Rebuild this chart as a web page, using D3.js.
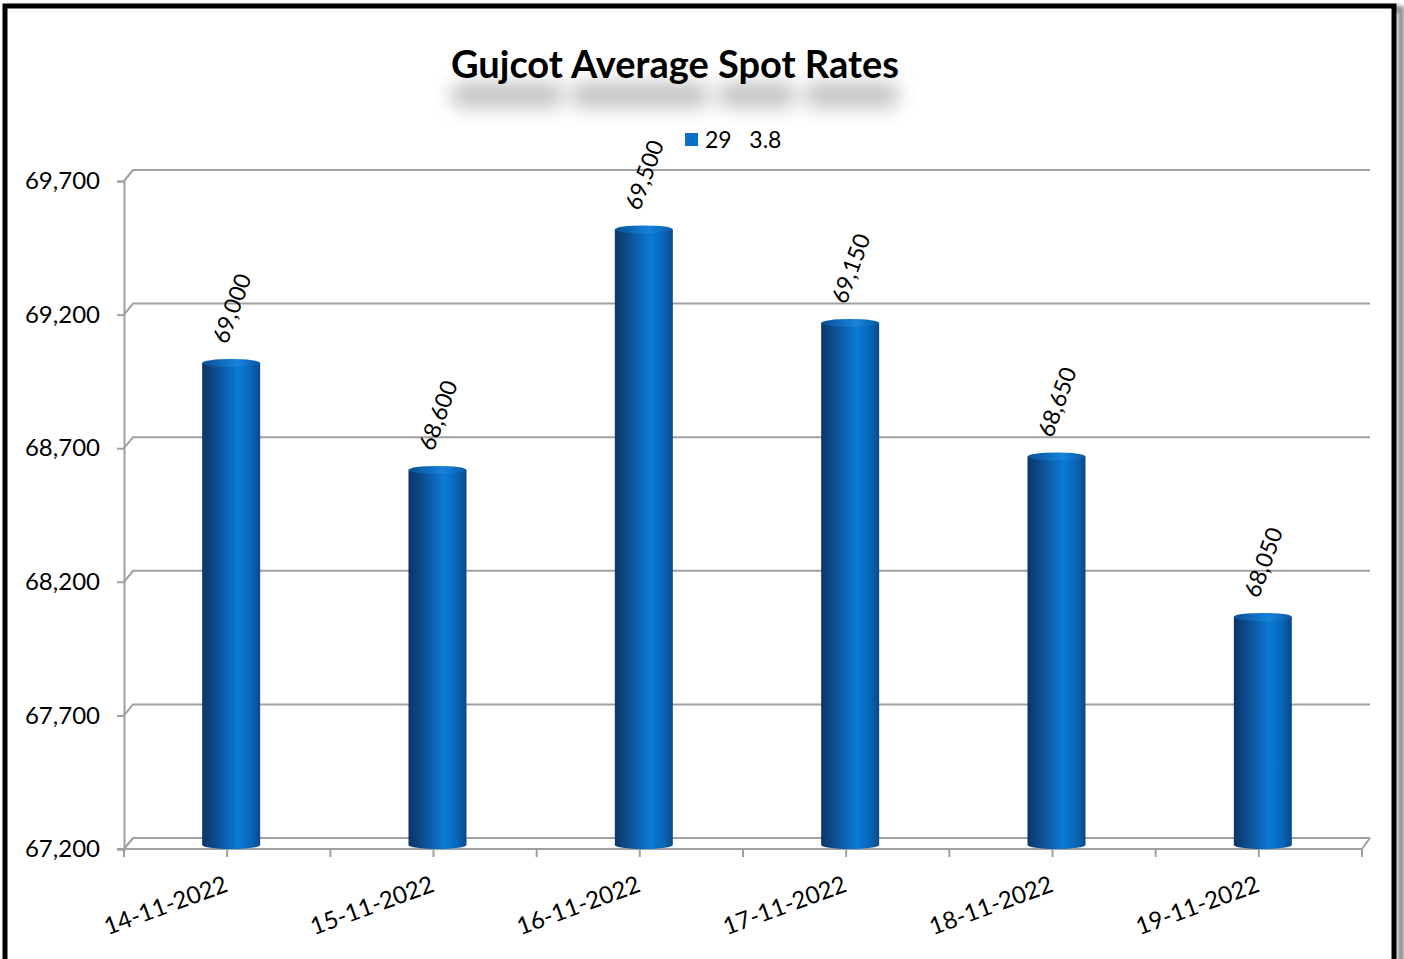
<!DOCTYPE html>
<html>
<head>
<meta charset="utf-8">
<script src="https://cdn.jsdelivr.net/npm/d3@7"></script>
<style>
  body { margin: 0; background: #fff; }
  svg { display: block; font-family: Lato, "Open Sans", sans-serif; }
</style>
</head>
<body>
<svg id="chart" width="1404" height="959"></svg>
<script>
// data
const dates = ["14-11-2022", "15-11-2022", "16-11-2022", "17-11-2022", "18-11-2022", "19-11-2022"]
const rates = [69000, 68600, 69500, 69150, 68650, 68050]
const yTicks = [67200, 67700, 68200, 68700, 69200, 69700]
const seriesName = "29   3.8"
const titleWords = ["Gujcot", "Average", "Spot", "Rates"]

const svg = d3.select("#chart")

// 3d offsets: back wall and middle of the floor
const BACK = { dx: 9, dy: -11 }
const MID = { dx: 4, dy: -5 }

const x = d3.scaleBand().domain(dates).range([124, 1362]).padding(0)
const y = d3.scaleLinear().domain([67200, 69700]).range([849, 181])

const defs = svg.append("defs")

let grad = defs.append("linearGradient").attr("id", "cyl").attr("x1", "0%").attr("x2", "100%")
grad.selectAll("stop")
  .data([[0, "#0b3566"], [0.25, "#0d4f93"], [0.62, "#0a7bd6"], [0.85, "#0864b4"], [1, "#0a4a88"]])
  .enter().append("stop")
  .attr("offset", d => d[0])
  .attr("stop-color", d => d[1])

let gradTop = defs.append("linearGradient").attr("id", "cylTop").attr("x1", "0%").attr("x2", "100%")
gradTop.selectAll("stop")
  .data([[0, "#0a4f95"], [0.6, "#1583dc"], [1, "#0a5aa6"]])
  .enter().append("stop")
  .attr("offset", d => d[0])
  .attr("stop-color", d => d[1])

defs.append("filter").attr("id", "blur")
  .attr("x", "-40%").attr("y", "-150%").attr("width", "180%").attr("height", "400%")
  .append("feGaussianBlur").attr("stdDeviation", 10)

defs.append("filter").attr("id", "frameShadow")
  .append("feGaussianBlur").attr("stdDeviation", 2)

// frame
svg.append("rect")
  .attr("x", 9).attr("y", 9).attr("width", 1392).attr("height", 960)
  .attr("fill", "none").attr("stroke", "#888").attr("stroke-width", 6)
  .attr("filter", "url(#frameShadow)")
svg.append("rect")
  .attr("x", 5).attr("y", 6).attr("width", 1389).attr("height", 960)
  .attr("fill", "#fff").attr("stroke", "#000").attr("stroke-width", 5)

// title, with a blurred shadow blob under every word
let shadowG = svg.append("g")
let title = svg.append("text")
  .attr("x", 675).attr("y", 78)
  .attr("text-anchor", "middle")
  .attr("font-size", 38).attr("font-weight", "bold")
  .attr("fill", "#000")
  .text(titleWords.join(" "))
let tnode = title.node()
let tx0 = 675 - tnode.getComputedTextLength() / 2
let pos = 0
titleWords.forEach(w => {
  let start = tnode.getSubStringLength(0, pos)
  let len = tnode.getSubStringLength(pos, w.length)
  shadowG.append("rect")
    .attr("x", tx0 + start).attr("y", 84)
    .attr("width", len).attr("height", 22)
    .attr("rx", 10)
    .attr("fill", "#8a8a8a").attr("opacity", 0.6)
    .attr("filter", "url(#blur)")
  pos += w.length + 1
})

// legend
svg.append("rect").attr("x", 685).attr("y", 133).attr("width", 13).attr("height", 13).attr("fill", "#0a70c6")
svg.append("text").attr("x", 705).attr("y", 148).attr("font-size", 23).attr("fill", "#000")
  .attr("xml:space", "preserve").text(seriesName)

// gridlines on the back wall
const gridColor = "#a0a0a0"
let grid = svg.append("g").attr("class", "grid")
yTicks.forEach(t => {
  let yy = y(t)
  grid.append("polyline")
    .attr("points", [[124, yy], [124 + BACK.dx, yy + BACK.dy], [1370, yy + BACK.dy]].join(" "))
    .attr("fill", "none").attr("stroke", gridColor).attr("stroke-width", 2)
})

// floor front edge, right diagonal
grid.append("line").attr("x1", 117).attr("x2", 1362).attr("y1", 849).attr("y2", 849)
  .attr("stroke", gridColor).attr("stroke-width", 2)
grid.append("line").attr("x1", 1362).attr("y1", 849).attr("x2", 1370).attr("y2", 849 + BACK.dy)
  .attr("stroke", gridColor).attr("stroke-width", 2)

// left axis
let yAxis = svg.append("g").attr("transform", "translate(124,0)")
  .call(d3.axisLeft(y).tickValues(yTicks).tickSize(7).tickPadding(17).tickFormat(d3.format(",")))
yAxis.select(".domain").attr("stroke", gridColor).attr("stroke-width", 2)
yAxis.selectAll(".tick line").attr("stroke", gridColor).attr("stroke-width", 2)
yAxis.selectAll(".tick text").attr("font-size", 24).attr("fill", "#000").attr("font-family", "Lato, sans-serif")

// bottom ticks: at category edges and centres
let xTickPos = []
dates.forEach(d => { xTickPos.push(x(d)); xTickPos.push(x(d) + x.bandwidth() / 2) })
xTickPos.push(x.range()[1])
svg.append("g").selectAll("line").data(xTickPos).enter().append("line")
  .attr("x1", d => d).attr("x2", d => d).attr("y1", 849).attr("y2", 857)
  .attr("stroke", gridColor).attr("stroke-width", 2)

// category labels
svg.append("g").selectAll("text").data(dates).enter().append("text")
  .attr("transform", d => "translate(" + (x(d) + x.bandwidth() / 2 + 2) + ",891) rotate(-20)")
  .attr("text-anchor", "end")
  .attr("font-size", 24).attr("fill", "#000")
  .text(d => d)

// cylinders
const barW = 58
const ry = 4
let bars = svg.append("g").attr("class", "bars")
dates.forEach((d, i) => {
  let cx = x(d) + x.bandwidth() / 2 + MID.dx
  let top = y(rates[i]) + MID.dy
  let bottom = y(67200) + MID.dy + 1
  let g = bars.append("g")
  g.append("path")
    .attr("d", "M" + (cx - barW / 2) + "," + top +
      " L" + (cx - barW / 2) + "," + bottom +
      " A" + (barW / 2) + "," + ry + " 0 0 0 " + (cx + barW / 2) + "," + bottom +
      " L" + (cx + barW / 2) + "," + top + " Z")
    .attr("fill", "url(#cyl)")
  g.append("ellipse")
    .attr("cx", cx).attr("cy", top).attr("rx", barW / 2).attr("ry", ry)
    .attr("fill", "url(#cylTop)")
})

// value labels
svg.append("g").selectAll("text").data(rates).enter().append("text")
  .attr("transform", (d, i) => {
    let cx = x(dates[i]) + x.bandwidth() / 2 + MID.dx
    return "translate(" + (cx - 4) + "," + (y(d) + MID.dy - 18) + ") rotate(-70)"
  })
  .attr("text-anchor", "start")
  .attr("font-size", 23).attr("fill", "#000")
  .text(d => d3.format(",")(d))
</script>
</body>
</html>
